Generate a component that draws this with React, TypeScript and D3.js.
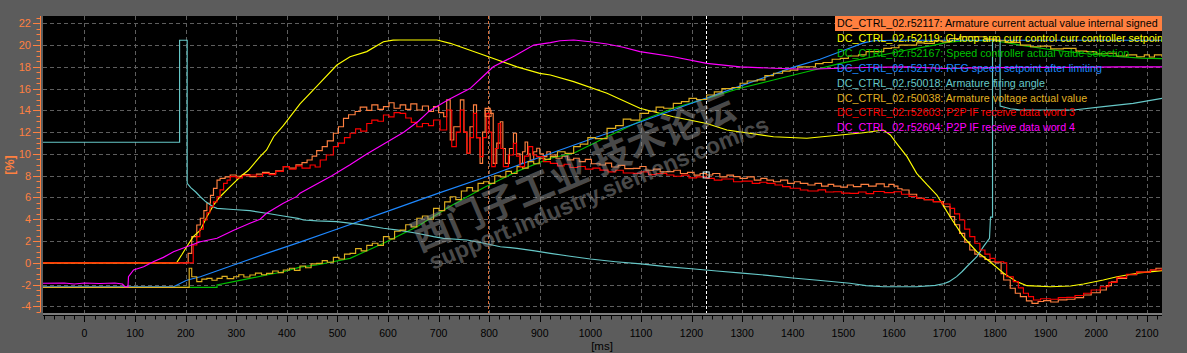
import React from 'react';
import * as d3 from 'd3';

type P = [number, number];

const W = 1187, H = 353;
const X0 = 43, X1 = 1162, Y0 = 16, Y1 = 313;
const T_MIN = -82, T_MAX = 2130;
const V_MIN = -4.61, V_MAX = 22.67;

const xTickValues = [0, 100, 200, 300, 400, 500, 600, 700, 800, 900, 1000, 1100, 1200, 1300, 1400, 1500, 1600, 1700, 1800, 1900, 2000, 2100];
const yTickValues = [-4, -2, 0, 2, 4, 6, 8, 10, 12, 14, 16, 18, 20, 22];

const legendLabels = [
  'DC_CTRL_02.r52117: Armature current actual value internal signed',
  'DC_CTRL_02.r52119: Cl-loop arm curr control curr controller setpoint',
  'DC_CTRL_02.r52167: Speed controller actual value selection',
  'DC_CTRL_02.r52170: RFG speed setpoint after limiting',
  'DC_CTRL_02.r50018: Armature firing angle',
  'DC_CTRL_02.r50038: Armature voltage actual value',
  'DC_CTRL_02.r52603: P2P IF receive data word 3',
  'DC_CTRL_02.r52604: P2P IF receive data word 4',
];
const legendColors = ['#ff8040', '#ffff00', '#00c000', '#1e88ff', '#66c8c8', '#e0b020', '#ff0000', '#ff00ff'];

const cursorTimes = [798, 1229];

// r52117 armature current actual (orange)
const armCurrent: P[] = [
  [-82, 0], [200, 0], [205, 0.87], [212, 2.4], [222, 3.47], [229, 4.09], [236, 4.8], [242, 5.47], [249, 6.2], [255, 6.84],
  [262, 7.6], [268, 7.76], [278, 7.9], [288, 8.07], [300, 7.95], [312, 8.1], [327, 7.91], [340, 8.15], [352, 8.3], [365, 8.2],
  [378, 8.45], [393, 8.83], [405, 8.7], [418, 9.0], [430, 9.2], [440, 9.44], [450, 9.8], [459, 10.3], [470, 10.67], [480, 11.2],
  [492, 11.9], [502, 12.5], [512, 13.27], [522, 13.6], [535, 13.9], [545, 14.3], [558, 14.0], [568, 14.5], [580, 14.1], [591, 14.34],
  [602, 14.7], [612, 14.2], [624, 14.5], [635, 14.1], [645, 14.6], [657, 14.04], [668, 14.4], [680, 13.9], [690, 14.34], [700, 13.8],
  [710, 13.42], [716, 14.96], [723, 11.28], [730, 12.5], [743, 14.96], [750, 12.0], [756, 10.06], [762, 12.5], [769, 14.5], [775, 11.5],
  [782, 9.14], [787, 12.0], [792, 14.19], [802, 13.73], [808, 9.14], [815, 11.0], [822, 12.96], [827, 10.5], [832, 9.14], [840, 10.5],
  [848, 11.9], [854, 10.0], [861, 9.14], [866, 10.2], [871, 11.1], [876, 10.0], [881, 9.44], [888, 10.2], [894, 10.52], [900, 10.0],
  [907, 9.75], [914, 10.2], [921, 9.9], [932, 9.6], [944, 9.8], [955, 9.45], [967, 9.6], [978, 9.3], [990, 9.5], [1002, 9.1],
  [1019, 8.98], [1030, 9.15], [1042, 8.8], [1055, 8.95], [1068, 8.65], [1085, 8.68], [1098, 8.85], [1110, 8.5], [1125, 8.6], [1138, 8.35],
  [1151, 8.37], [1165, 8.5], [1178, 8.2], [1192, 8.3], [1205, 8.05], [1217, 8.2], [1229, 8.07], [1242, 8.2], [1256, 7.9], [1270, 8.05],
  [1283, 7.91], [1296, 7.75], [1310, 7.9], [1324, 7.6], [1337, 7.75], [1349, 7.6], [1362, 7.45], [1376, 7.6], [1390, 7.3], [1403, 7.45],
  [1415, 7.3], [1430, 7.15], [1444, 7.3], [1457, 7.05], [1470, 7.2], [1481, 7.05], [1495, 6.95], [1508, 7.15], [1520, 7.0], [1535, 7.2],
  [1550, 7.05], [1565, 7.25], [1581, 6.99], [1590, 7.2], [1600, 7.05], [1608, 6.8], [1616, 6.69], [1630, 6.3], [1645, 5.93], [1660, 5.8],
  [1678, 5.62], [1698, 5.15], [1711, 4.24], [1720, 3.5], [1730, 2.71], [1740, 1.9], [1750, 1.18], [1760, 0.8], [1770, 0.56], [1780, 0.3],
  [1790, 0.1], [1800, 0.01], [1812, -1.0], [1817, -1.58], [1830, -2.34], [1840, -2.8], [1850, -3.11], [1862, -3.5], [1873, -3.72], [1885, -3.55],
  [1896, -3.48], [1910, -3.6], [1925, -3.4], [1942, -3.35], [1958, -3.2], [1975, -2.96], [1990, -2.75], [2008, -2.5], [2020, -2.1], [2030, -1.75],
  [2041, -1.43], [2060, -1.1], [2080, -0.85], [2107, -0.66], [2118, -0.5], [2130, -0.45],
];

// r52119 current controller setpoint (yellow)
const currSetpoint: P[] = [
  [-82, 0], [182, 0], [192, 0.72], [202, 1.48], [215, 2.4], [229, 3.0], [242, 4.24], [255, 5.3], [268, 6.07], [288, 6.99],
  [308, 7.9], [324, 8.5], [347, 9.75], [360, 10.36], [374, 11.58], [393, 12.6], [426, 14.6], [459, 16.2], [499, 18.17], [525, 18.93],
  [558, 19.4], [591, 20.3], [610, 20.45], [624, 20.47], [697, 20.47], [723, 20.16], [789, 19.09], [855, 18.0], [900, 17.4], [921, 17.25],
  [967, 16.64], [1033, 15.57], [1098, 14.19], [1164, 13.42], [1230, 12.8], [1270, 12.2], [1362, 11.58], [1428, 11.44], [1494, 11.74], [1540, 11.95],
  [1579, 12.2], [1593, 11.74], [1605, 11.0], [1626, 9.75], [1645, 8.22], [1665, 7.2], [1685, 6.23], [1711, 4.24], [1737, 2.4], [1764, 1.02],
  [1790, 0.1], [1817, -0.96], [1843, -1.73], [1863, -2.1], [1909, -2.2], [1949, -2.13], [1975, -1.95], [2014, -1.58], [2041, -1.28], [2080, -0.96],
  [2130, -0.72],
];

// r52167 speed actual value (green)
const speedActual: P[] = [
  [-82, -2.25], [262, -2.25], [262, -2.04], [295, -1.73], [327, -1.43], [360, -1.12], [393, -0.82], [426, -0.4], [459, -0.2], [525, 0.41],
  [591, 1.79], [657, 3.32], [723, 5.2], [789, 6.9], [855, 8.4], [921, 9.6], [967, 10.06], [1033, 11.58], [1098, 13.0], [1164, 14.19],
  [1230, 15.1], [1296, 16.03], [1362, 16.79], [1428, 17.55], [1494, 18.32], [1560, 18.93], [1626, 19.55], [1680, 20.0], [1705, 20.25], [1740, 20.4],
  [1800, 20.4], [1850, 20.0], [1915, 19.55], [1980, 19.2], [2047, 18.93], [2090, 18.8], [2130, 18.75],
];

// r52170 RFG speed setpoint (blue)
const rfgSetpoint: P[] = [
  [-82, -2.2], [176, -2.2], [202, -1.6], [229, -1.28], [295, -0.2], [360, 0.87], [426, 1.9], [500, 3.1], [600, 4.75], [700, 6.4],
  [800, 8.0], [900, 9.7], [1000, 11.35], [1100, 12.95], [1200, 14.65], [1300, 16.3], [1400, 17.95], [1454, 18.7], [1500, 19.5], [1540, 20.2],
  [1560, 20.4], [1600, 20.44], [2130, 20.44],
];

// r50018 armature firing angle (cyan)
const firingAngle: P[] = [
  [-82, 11.07], [188, 11.07], [188, 20.44], [203, 20.44], [203, 7.3], [210, 6.9], [220, 6.5], [229, 6.07], [240, 5.6], [254, 5.15],
  [262, 5.0], [294, 4.9], [327, 4.79], [360, 4.55], [393, 4.3], [422, 4.08], [433, 3.93], [460, 3.85], [499, 3.78], [540, 3.55],
  [591, 3.17], [620, 3.0], [657, 2.71], [690, 2.4], [710, 2.25], [756, 2.1], [790, 1.8], [822, 1.48], [855, 1.33], [890, 1.1],
  [921, 0.87], [960, 0.6], [1000, 0.35], [1050, 0.1], [1100, -0.1], [1150, -0.35], [1200, -0.55], [1250, -0.75], [1300, -0.95], [1350, -1.15],
  [1400, -1.4], [1450, -1.6], [1513, -1.88], [1545, -2.1], [1579, -2.2], [1645, -2.2], [1682, -2.07], [1700, -1.9], [1709, -1.73], [1724, -1.27],
  [1735, -0.8], [1744, -0.36], [1764, 0.56], [1777, 1.48], [1789, 2.25], [1791, 4.2], [1795, 4.2], [1795, 20.44], [1810, 20.44], [1810, 14.4],
  [1830, 14.15], [1850, 14.04], [1955, 14.04], [2014, 14.34], [2073, 14.65], [2130, 15.1],
];

// r50038 armature voltage actual (gold)
const armVoltage: P[] = [
  [-82, -2.25], [207, -2.25], [207, -0.5], [212, -1.28], [222, -1.73], [232, -1.5], [242, -1.43], [252, -1.6], [262, -1.43], [272, -1.25],
  [282, -1.45], [295, -1.28], [305, -1.1], [315, -1.3], [327, -1.12], [338, -0.95], [350, -1.1], [360, -0.97], [372, -0.75], [383, -0.9],
  [393, -0.66], [405, -0.5], [415, -0.7], [426, -0.29], [437, -0.45], [448, -0.1], [459, -0.05], [470, 0.2], [480, 0.05], [492, 0.5],
  [503, 0.35], [514, 0.8], [525, 0.87], [536, 1.3], [547, 1.1], [558, 1.6], [569, 1.8], [580, 1.6], [591, 2.4], [602, 2.2],
  [613, 2.9], [624, 3.0], [635, 3.5], [646, 3.3], [657, 4.09], [668, 4.3], [679, 4.0], [690, 5.0], [701, 4.8], [712, 5.6],
  [723, 6.07], [734, 5.8], [745, 6.6], [756, 6.9], [767, 6.6], [778, 7.3], [789, 7.45], [800, 7.3], [811, 8.0], [822, 7.9],
  [833, 8.4], [844, 8.2], [855, 8.83], [866, 8.7], [877, 9.3], [888, 9.1], [899, 9.6], [910, 9.5], [921, 9.75], [935, 10.2],
  [950, 10.05], [967, 10.67], [980, 10.9], [995, 11.5], [1010, 11.4], [1033, 12.35], [1050, 12.6], [1065, 13.2], [1080, 13.1], [1098, 13.73],
  [1115, 13.9], [1130, 14.3], [1145, 14.2], [1164, 14.65], [1180, 14.8], [1195, 15.1], [1210, 15.0], [1230, 15.41], [1245, 15.7], [1260, 16.0],
  [1280, 16.1], [1296, 16.49], [1310, 16.7], [1330, 16.8], [1345, 17.2], [1362, 17.41], [1380, 17.6], [1395, 17.7], [1410, 18.0], [1428, 18.01],
  [1445, 18.3], [1460, 18.4], [1478, 18.7], [1494, 18.78], [1510, 19.0], [1530, 19.1], [1545, 19.4], [1560, 19.4], [1580, 19.7], [1595, 19.75],
  [1610, 20.0], [1626, 20.0], [1645, 20.2], [1660, 20.15], [1680, 20.4], [1696, 20.3], [1710, 20.6], [1730, 20.76], [1760, 20.76], [1780, 20.55],
  [1800, 20.4], [1820, 20.25], [1850, 20.0], [1870, 19.85], [1890, 19.9], [1910, 19.65], [1935, 19.7], [1960, 19.45], [1981, 19.4], [2000, 19.2],
  [2020, 19.25], [2040, 19.0], [2060, 19.1], [2080, 18.93], [2095, 19.1], [2105, 18.9], [2115, 19.1], [2130, 18.9],
];

// r52603 P2P receive data word 3 (red)
const dataWord3: P[] = [
  [-82, 0], [212, 0], [215, 1.64], [222, 2.4], [228, 3.1], [235, 3.93], [242, 4.6], [248, 5.15], [255, 5.6], [262, 6.07],
  [268, 6.7], [275, 7.3], [282, 7.6], [288, 7.91], [300, 7.8], [312, 8.0], [327, 8.07], [340, 7.95], [352, 8.2], [365, 8.1],
  [378, 8.4], [393, 8.83], [405, 8.6], [418, 8.9], [430, 8.7], [446, 8.98], [456, 8.8], [466, 9.44], [478, 9.9], [492, 10.67],
  [502, 11.0], [514, 11.5], [525, 11.9], [536, 12.3], [546, 12.1], [558, 12.8], [568, 13.1], [580, 13.0], [591, 13.58], [602, 13.4],
  [612, 13.8], [624, 13.73], [635, 13.3], [646, 12.9], [657, 12.5], [668, 12.8], [680, 12.6], [690, 13.12], [703, 12.2], [716, 14.04],
  [726, 10.67], [735, 12.0], [743, 14.04], [750, 12.0], [756, 10.06], [762, 11.5], [769, 13.73], [775, 11.5], [782, 9.75], [788, 11.5],
  [795, 13.73], [800, 12.0], [805, 8.83], [812, 10.5], [818, 12.8], [823, 10.5], [828, 8.83], [838, 9.9], [848, 10.97], [854, 9.8],
  [861, 8.83], [870, 9.8], [878, 10.67], [886, 9.9], [894, 9.75], [907, 9.3], [921, 9.14], [935, 8.9], [948, 9.05], [960, 8.75],
  [975, 8.85], [990, 8.6], [1005, 8.7], [1019, 8.52], [1035, 8.35], [1050, 8.5], [1065, 8.25], [1085, 8.22], [1100, 8.35], [1115, 8.1],
  [1130, 8.2], [1151, 8.07], [1165, 7.95], [1180, 8.05], [1195, 7.8], [1210, 7.9], [1229, 7.76], [1245, 7.6], [1260, 7.7], [1283, 7.45],
  [1300, 7.5], [1320, 7.3], [1335, 7.4], [1349, 7.3], [1365, 7.15], [1380, 7.0], [1395, 6.85], [1415, 6.69], [1430, 6.6], [1450, 6.7],
  [1465, 6.5], [1481, 6.53], [1497, 6.4], [1513, 6.38], [1530, 6.5], [1545, 6.35], [1560, 6.55], [1581, 6.45], [1600, 6.53], [1615, 6.3],
  [1630, 6.1], [1645, 5.93], [1660, 5.8], [1678, 5.62], [1695, 5.4], [1711, 5.0], [1720, 4.5], [1730, 3.93], [1740, 3.1], [1750, 2.4],
  [1760, 1.8], [1770, 1.18], [1780, 0.8], [1790, 0.41], [1800, 0.1], [1817, 0.01], [1823, -1.28], [1836, -1.73], [1846, -2.3], [1856, -2.8],
  [1866, -3.1], [1876, -3.42], [1890, -3.3], [1909, -3.35], [1925, -3.2], [1942, -3.17], [1958, -3.0], [1975, -2.8], [1990, -2.5], [2008, -2.2],
  [2025, -1.8], [2041, -1.34], [2060, -1.05], [2080, -0.85], [2107, -0.66], [2130, -0.5],
];

// r52604 P2P receive data word 4 (magenta)
const dataWord4: P[] = [
  [-82, -1.88], [-40, -1.85], [-20, -1.95], [0, -1.85], [30, -1.9], [60, -1.85], [75, -1.95], [80, -2.2], [86, -2.2], [87, -1.28],
  [97, -0.66], [117, -0.36], [136, 0.1], [156, 0.5], [176, 1.02], [202, 1.48], [229, 1.94], [262, 2.25], [295, 3.0], [327, 3.63],
  [347, 4.0], [360, 4.55], [393, 5.47], [420, 6.1], [426, 6.4], [489, 8.0], [525, 9.0], [558, 10.0], [595, 11.0], [631, 12.0],
  [660, 13.0], [683, 14.0], [720, 15.0], [762, 16.0], [785, 17.0], [808, 18.0], [850, 19.0], [888, 20.0], [921, 20.22], [940, 20.4],
  [967, 20.47], [1000, 20.3], [1033, 20.1], [1065, 19.8], [1098, 19.4], [1164, 18.93], [1230, 18.32], [1296, 18.0], [1362, 17.87], [1428, 17.78],
  [1494, 17.87], [1560, 17.96], [1626, 18.0], [1700, 17.85], [1760, 17.9], [1850, 17.95], [1950, 17.95], [2050, 18.0], [2130, 18.0],
];

const seriesData: P[][] = [armCurrent, currSetpoint, speedActual, rfgSetpoint, firingAngle, armVoltage, dataWord3, dataWord4];
const stepped = [true, false, false, false, false, true, true, false];

export default function App() {
  const x = d3.scaleLinear().domain([T_MIN, T_MAX]).range([X0, X1]);
  const y = d3.scaleLinear().domain([V_MIN, V_MAX]).range([Y1, Y0]);
  const lineStep = d3.line<P>().x(d => x(d[0])).y(d => y(d[1])).curve(d3.curveStepAfter);
  const lineLin = d3.line<P>().x(d => x(d[0])).y(d => y(d[1])).curve(d3.curveLinear);

  const xMinor = d3.range(-80, 2130, 20);
  const yMinor = d3.range(-4.5, 22.6, 0.5);
  const font = '"Liberation Sans", Arial, sans-serif';
  const orange = '#ff8040';

  const legendTop = 16;
  const rowH = 14.86;

  return (
    <svg width={W} height={H} style={{ position: 'absolute', left: 0, top: 0, display: 'block' }} xmlns="http://www.w3.org/2000/svg">
      <defs>
        <clipPath id="plotClip">
          <rect x={X0} y={Y0} width={X1 - X0} height={Y1 - Y0} />
        </clipPath>
      </defs>
      <rect x={0} y={0} width={W} height={H} fill="#5c5c5c" />
      <rect x={X0} y={Y0} width={X1 - X0} height={Y1 - Y0} fill="#000" />

      {/* grid */}
      <g stroke="#5e5e5e" strokeWidth={1} strokeDasharray="4,3" clipPath="url(#plotClip)">
        {yTickValues.map(v => (
          <line key={'gy' + v} x1={X0} x2={X1} y1={Math.round(y(v)) + 0.5} y2={Math.round(y(v)) + 0.5} />
        ))}
        {xTickValues.map(t => (
          <line key={'gx' + t} x1={Math.round(x(t)) + 0.5} x2={Math.round(x(t)) + 0.5} y1={Y0} y2={Y1} />
        ))}
      </g>

      {/* cursors */}
      <g clipPath="url(#plotClip)">
        <line x1={Math.round(x(cursorTimes[0])) + 0.5} x2={Math.round(x(cursorTimes[0])) + 0.5} y1={Y0} y2={Y1} stroke={orange} strokeOpacity={0.85} strokeDasharray="3,2" />
        <line x1={Math.round(x(cursorTimes[1])) + 0.5} x2={Math.round(x(cursorTimes[1])) + 0.5} y1={Y0} y2={Y1} stroke="#ffffff" strokeDasharray="3,2" />
      </g>

      {/* series */}
      <g clipPath="url(#plotClip)" fill="none" strokeWidth={1.15} strokeLinejoin="miter">
        {seriesData.map((d, i) => (
          <path key={'s' + i} d={(stepped[i] ? lineStep : lineLin)(d) || ''} stroke={legendColors[i]} />
        ))}
      </g>

      {/* cursor markers */}
      <g fill="none" strokeWidth={1}>
        <rect x={x(cursorTimes[0]) - 3} y={y(13.73) - 3} width={6} height={6} stroke={orange} />
        <rect x={x(cursorTimes[1]) - 3} y={y(8.07) - 3} width={6} height={6} stroke="#c8ecec" />
      </g>

      {/* watermark */}
      <g fill="#9a9a9a" opacity={0.48} style={{ pointerEvents: 'none' }}>
        <text transform="translate(419,252) rotate(-23)" fontFamily='"Noto Sans CJK SC", sans-serif' fontWeight={700} fontSize={37.5}>西门子工业 技术论坛</text>
        <text transform="translate(433,270) rotate(-22.5)" fontFamily={font} fontWeight={700} fontSize={23}>support.industry.siemens.com/cs</text>
      </g>

      {/* legend */}
      <rect x={835} y={legendTop} width={X1 - 835} height={15} fill={orange} />
      <g clipPath="url(#plotClip)" fontFamily={font} fontSize={10.7}>
        {legendLabels.map((lab, i) => (
          <text key={'lg' + i} x={837} y={legendTop + 11.2 + i * rowH} fill={i === 0 ? '#000' : legendColors[i]}>{lab}</text>
        ))}
      </g>

      {/* y axis */}
      <line x1={40.5} x2={40.5} y1={Y0} y2={Y1 - 1} stroke={orange} />
      <g stroke={orange}>
        {yMinor.map(v => (
          <line key={'ym' + v} x1={36.5} x2={40.5} y1={Math.round(y(v)) + 0.5} y2={Math.round(y(v)) + 0.5} />
        ))}
        {yTickValues.map(v => (
          <line key={'yM' + v} x1={33} x2={40.5} y1={Math.round(y(v)) + 0.5} y2={Math.round(y(v)) + 0.5} />
        ))}
      </g>
      <g fill={orange} fontFamily={font} fontSize={11} textAnchor="end">
        {yTickValues.map(v => (
          <text key={'yl' + v} x={31} y={y(v) + 4}>{v}</text>
        ))}
      </g>
      <text transform="translate(14,165) rotate(-90)" fill={orange} fontFamily={font} fontSize={12.5} fontWeight={700} textAnchor="middle">[%]</text>

      {/* x axis */}
      <rect x={X0} y={Y1} width={X1 - X0} height={2.5} fill="#7c7c7c" />
      <line x1={X0} x2={X1} y1={315.5} y2={315.5} stroke="#000" />
      <g stroke="#000">
        {xMinor.map(t => (
          <line key={'xm' + t} x1={Math.round(x(t)) + 0.5} x2={Math.round(x(t)) + 0.5} y1={316} y2={319.5} />
        ))}
        {xTickValues.map(t => (
          <line key={'xM' + t} x1={Math.round(x(t)) + 0.5} x2={Math.round(x(t)) + 0.5} y1={316} y2={322} />
        ))}
      </g>
      <g fill="#000" fontFamily={font} fontSize={10.5} textAnchor="middle">
        {xTickValues.map(t => (
          <text key={'xl' + t} x={x(t)} y={337}>{t}</text>
        ))}
      </g>
      <text x={602} y={350} fill="#000" fontFamily={font} fontSize={11.5} textAnchor="middle">[ms]</text>
    </svg>
  );
}
